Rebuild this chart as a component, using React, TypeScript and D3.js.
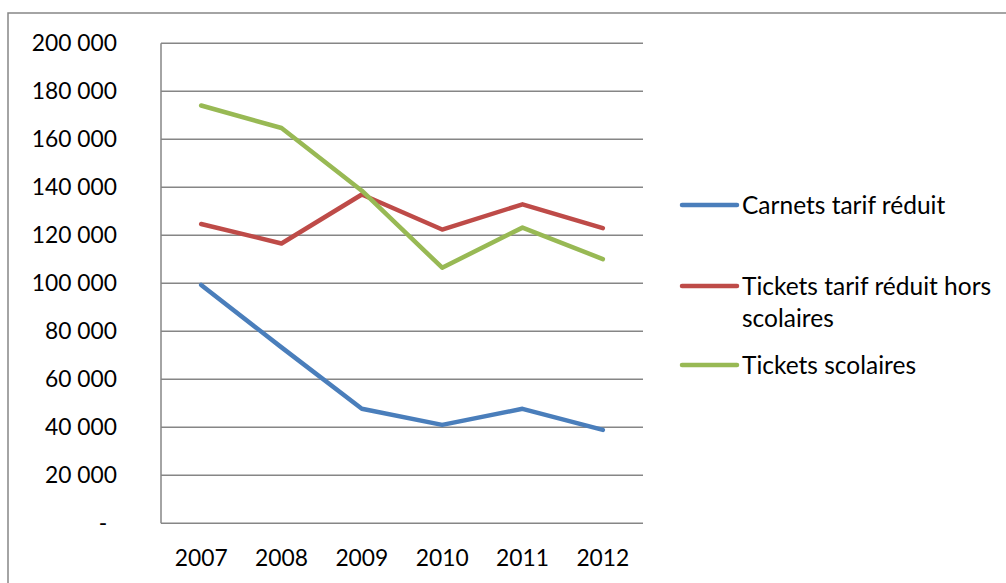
import React from "react";
import * as d3 from "d3";

const years = ["2007", "2008", "2009", "2010", "2011", "2012"];
const carnets = [99300, 73300, 47700, 41000, 47700, 38900];
const ticketsHors = [124700, 116600, 137000, 122400, 132900, 123000];
const ticketsScol = [174100, 164700, 138600, 106500, 123200, 110100];
const yTicks = [0, 20000, 40000, 60000, 80000, 100000, 120000, 140000, 160000, 180000, 200000];

const series = [
  { name: ["Carnets tarif réduit"], values: carnets, color: "#4a7ebb" },
  { name: ["Tickets tarif réduit hors", "scolaires"], values: ticketsHors, color: "#be4b48" },
  { name: ["Tickets scolaires"], values: ticketsScol, color: "#98b954" },
];

const W = 1006;
const H = 583;
const FONT = "Lato, 'Liberation Sans', sans-serif";

const fmt = (v: number) => (v === 0 ? "-" : d3.format(",")(v).replace(/,/g, " "));

export default function App() {
  const x = d3.scaleBand<string>().domain(years).range([161, 643]);
  const y = d3.scaleLinear().domain([0, 200000]).range([523.3, 43.3]);
  const line = d3
    .line<number>()
    .x((_, i) => (x(years[i]) as number) + x.bandwidth() / 2)
    .y((d) => y(d));

  const legendY = [205, 286, 365];

  return (
    <svg width={W} height={H} style={{ position: "absolute", left: 0, top: 0 }} fontFamily={FONT}>
      <rect x={0} y={0} width={W} height={H} fill="#fff" />
      <rect x={8} y={13} width={W + 20} height={H + 20} fill="none" stroke="#868686" strokeWidth={1.5} />

      {yTicks.map((t) => (
        <line key={t} x1={161} x2={643} y1={y(t)} y2={y(t)} stroke="#868686" strokeWidth={1.5} />
      ))}
      <line x1={161} x2={161} y1={y(200000)} y2={y(0)} stroke="#868686" strokeWidth={1.5} />

      {yTicks.map((t) => (
        <text
          key={t}
          x={t === 0 ? 103 : 117}
          y={y(t)}
          dy="0.35em"
          textAnchor={t === 0 ? "middle" : "end"}
          fontSize={22.8}
          fill="#000"
        >
          {fmt(t)}
        </text>
      ))}

      {years.map((yr) => (
        <text
          key={yr}
          x={(x(yr) as number) + x.bandwidth() / 2}
          y={558.5}
          dy="0.35em"
          textAnchor="middle"
          fontSize={22.8}
          fill="#000"
        >
          {yr}
        </text>
      ))}

      {series.map((s) => (
        <path
          key={s.color}
          d={line(s.values) as string}
          fill="none"
          stroke={s.color}
          strokeWidth={4.5}
          strokeLinecap="round"
          strokeLinejoin="round"
        />
      ))}

      {series.map((s, i) => (
        <g key={s.color}>
          <line x1={682} x2={737} y1={legendY[i]} y2={legendY[i]} stroke={s.color} strokeWidth={4.5} strokeLinecap="round" />
          {s.name.map((n, j) => (
            <text key={n} x={742} y={legendY[i] + j * 32} dy="0.35em" fontSize={24.5} fill="#000">
              {n}
            </text>
          ))}
        </g>
      ))}
    </svg>
  );
}
